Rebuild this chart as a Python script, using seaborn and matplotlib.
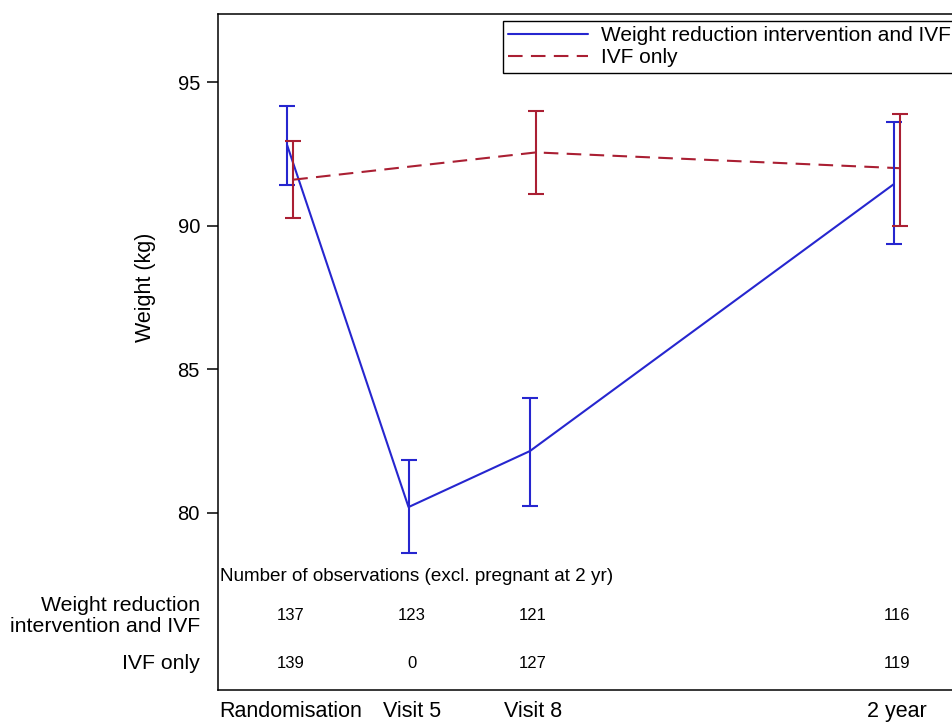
import numpy as np
import pandas as pd
import seaborn as sns
import matplotlib
matplotlib.use("Agg")
import matplotlib.pyplot as plt
import matplotlib.transforms as mtransforms

# visits and their position on the time axis
visits = ["Randomisation", "Visit 5", "Visit 8", "2 year"]
visit_pos = [0, 1, 2, 5]

groups = ["Weight reduction intervention and IVF", "IVF only"]

# mean weight and 95% CI (kg)
wr_mean = [92.8, 80.2, 82.15, 91.45]
wr_low = [91.4, 78.6, 80.25, 89.35]
wr_high = [94.15, 81.85, 84.0, 93.6]

ivf_mean = [91.6, np.nan, 92.55, 92.0]
ivf_low = [90.25, np.nan, 91.1, 90.0]
ivf_high = [92.95, np.nan, 94.0, 93.9]

# number of observations (excl. pregnant at 2 yr)
wr_n = [137, 123, 121, 116]
ivf_n = [139, 0, 127, 119]

colors = {groups[0]: "#2626CF", groups[1]: "#AA1F33"}
offset = {groups[0]: -0.025, groups[1]: 0.025}

rows = []
for g, m, lo, hi in [(groups[0], wr_mean, wr_low, wr_high),
                     (groups[1], ivf_mean, ivf_low, ivf_high)]:
    for v, p, a, b, c in zip(visits, visit_pos, m, lo, hi):
        rows.append({"group": g, "visit": v, "x": p + offset[g],
                     "weight": a, "low": b, "high": c})
df = pd.DataFrame(rows)

sns.set_style("ticks")
plt.rcParams["font.family"] = ["Liberation Sans", "DejaVu Sans"]
plt.rcParams["text.color"] = "black"
plt.rcParams["axes.labelcolor"] = "black"
plt.rcParams["xtick.color"] = "black"
plt.rcParams["ytick.color"] = "black"

fig = plt.figure(figsize=(9.53, 7.24), dpi=100)
ax = fig.add_axes([218 / 953, 1 - 690 / 724, (965 - 218) / 953, (690 - 14) / 724])

sns.lineplot(data=df.dropna(), x="x", y="weight", hue="group", style="group",
             hue_order=groups, style_order=groups, palette=colors,
             dashes={groups[0]: "", groups[1]: (7, 4)}, linewidth=1.5,
             sort=True, ax=ax)

for g in groups:
    d = df[df["group"] == g].dropna()
    ax.errorbar(d["x"], d["weight"],
                yerr=[d["weight"] - d["low"], d["high"] - d["weight"]],
                fmt="none", ecolor=colors[g], elinewidth=1.5, capsize=6,
                capthick=1.5)

ax.set_xlim(-0.595, 5.56)
ax.set_ylim(73.83, 97.37)
ax.set_yticks([80, 85, 90, 95])
ax.tick_params(axis="y", labelsize=14.5, length=8, width=1.1, pad=5)
ax.set_xticks(visit_pos)
ax.set_xticklabels(visits)
ax.tick_params(axis="x", labelsize=15.5, length=0, pad=8)
ax.set_xlabel("")
ax.set_ylabel("Weight (kg)", fontsize=15.5)
ax.yaxis.set_label_coords(-0.083, 0.595)
for s in ax.spines.values():
    s.set_color("black")
    s.set_linewidth(1.1)

# observation table inside the axes
trans = mtransforms.blended_transform_factory(ax.transAxes, ax.transData)
ax.text(0.003, 77.77, "Number of observations (excl. pregnant at 2 yr)",
        transform=trans, fontsize=13.6, ha="left", va="center")
for n_list, yv in [(wr_n, 76.41), (ivf_n, 74.77)]:
    for p, n in zip(visit_pos, n_list):
        ax.text(p, yv, str(n), fontsize=12, ha="center", va="center")
ax.text(-0.024, 76.41, "Weight reduction\nintervention and IVF", transform=trans,
        fontsize=15.3, ha="right", va="center", multialignment="right",
        linespacing=1.15)
ax.text(-0.024, 74.77, "IVF only", transform=trans, fontsize=15.3,
        ha="right", va="center")

handles, labels = ax.get_legend_handles_labels()
leg = ax.legend(handles, labels, loc="upper left",
                bbox_to_anchor=(503 / 953, 1 - 21 / 724),
                bbox_transform=fig.transFigure, borderaxespad=0,
                fontsize=15, handlelength=3.85, handletextpad=0.6,
                labelspacing=0.15, borderpad=0.25, fancybox=False,
                framealpha=1, edgecolor="black")
leg.get_frame().set_linewidth(1.0)

fig.savefig("out.png", dpi=100)
